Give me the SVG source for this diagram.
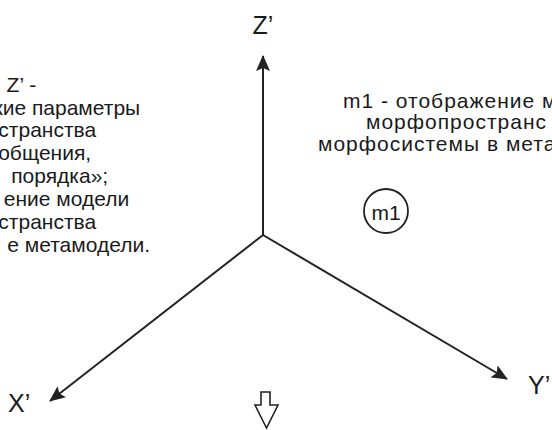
<svg xmlns="http://www.w3.org/2000/svg" width="552" height="430" viewBox="0 0 552 430">
<style>
.t{font-family:"Liberation Sans",Arial,sans-serif;font-size:21px;fill:#1a1a1a}
.r{letter-spacing:1px}
.ax{font-family:"Liberation Sans",Arial,sans-serif;font-size:25px;fill:#1a1a1a}
.axis{stroke:#222;stroke-width:2;fill:none}
</style>
<defs>
<marker id="ah" viewBox="0 0 16 14" refX="15" refY="7" markerWidth="16" markerHeight="14" markerUnits="userSpaceOnUse" orient="auto">
<path d="M0,0 L16,7 L0,14 L3,7 Z" fill="#222"/>
</marker>
</defs>
<rect width="552" height="430" fill="#fff"/>
<g id="connectors">
<line class="axis" x1="263" y1="235" x2="263" y2="56" marker-end="url(#ah)"/>
<line class="axis" x1="263" y1="235" x2="50" y2="401" marker-end="url(#ah)"/>
<line class="axis" x1="263" y1="235" x2="507" y2="379" marker-end="url(#ah)"/>
</g>
<g id="label-z"><text class="ax" x="263" y="34" text-anchor="middle">Z’</text></g>
<g id="label-x"><text class="ax" x="8" y="412">X’</text></g>
<g id="label-y"><text class="ax" x="528" y="394">Y’</text></g>
<g id="note-left">
<text class="t" text-anchor="end">
<tspan x="42" y="92">, Z’ -</tspan>
<tspan x="146" y="115">кие параметры</tspan>
<tspan x="102" y="137">странства</tspan>
<tspan x="97" y="160">общения,</tspan>
<tspan x="114" y="183">порядка»;</tspan>
<tspan x="135" y="206">ение модели</tspan>
<tspan x="102" y="229">странства</tspan>
<tspan x="150" y="252">е метамодели.</tspan>
</text>
</g>
<g id="note-right">
<text class="t r">
<tspan x="343" y="107.5">m1 - отображение м</tspan>
<tspan x="366" y="129">морфопространс</tspan>
<tspan x="318" y="150.5">морфосистемы в мета</tspan>
</text>
</g>
<g id="node-m1">
<circle cx="386" cy="211" r="22" fill="none" stroke="#222" stroke-width="1.8"/>
<text class="t" x="386" y="219.5" text-anchor="middle" font-size="24">m1</text>
</g>
<g id="down-arrow">
<path d="M261,392 L270,392 L270,405 L278,405 L266.5,428 L255,405 L261,405 Z" fill="#fff" stroke="#222" stroke-width="1.6"/>
</g>
</svg>
